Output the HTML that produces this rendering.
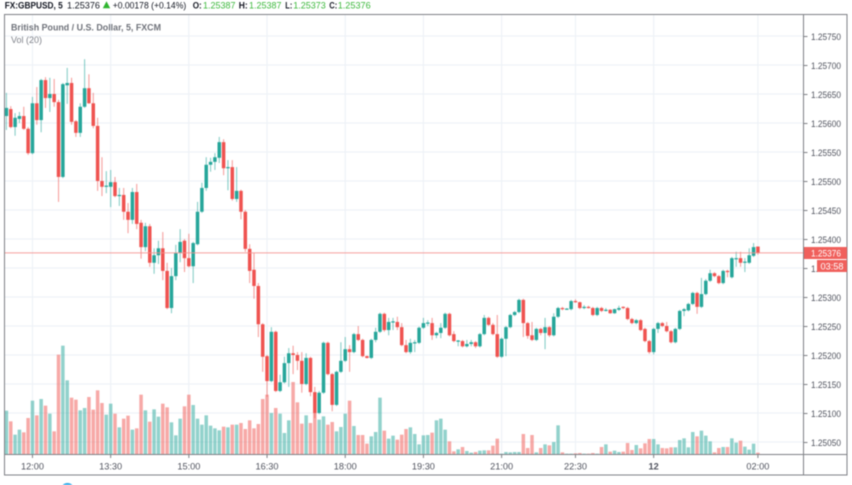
<!DOCTYPE html>
<html lang="en">
<head>
<meta charset="utf-8">
<title>GBPUSD 5 minute chart</title>
<style>
html,body{margin:0;padding:0;background:#fff;width:852px;height:485px;overflow:hidden}
svg{display:block;font-family:"Liberation Sans",Arial,sans-serif;filter:blur(0.4px)}
</style>
</head>
<body>
<svg id="chart" xmlns="http://www.w3.org/2000/svg" width="852" height="485" viewBox="0 0 852 485">
  <defs><clipPath id="plot-clip"><rect x="5" y="15" width="798.5" height="439"/></clipPath></defs>
  <rect x="0" y="0" width="852" height="485" fill="#ffffff"/>
  <g id="grid"></g>
  <g id="volumes" clip-path="url(#plot-clip)"></g>
  <g id="candles" clip-path="url(#plot-clip)"></g>
  <line id="last-line" x1="5" x2="803.5" stroke="#f48f8c" stroke-opacity="0.85" stroke-width="1"/>

  <g fill="none" stroke="#7f8186" stroke-width="1">
    <rect x="4.5" y="14.5" width="842.5" height="460.5"/>
    <line x1="803.5" y1="14.5" x2="803.5" y2="475"/>
    <line x1="4.5" y1="454.5" x2="847" y2="454.5"/>
  </g>
  <g id="price-axis"></g>
  <g id="time-axis"></g>

  <rect id="last-tag" x="804" y="247" width="43" height="12" fill="#f0605c"/>
  <text id="last-tag-text" x="811" y="256.4" font-size="9.3" fill="#ffffff" textLength="30" lengthAdjust="spacingAndGlyphs">1.25376</text>
  <rect x="817" y="260" width="30" height="12" fill="#f0605c"/>
  <text x="820.5" y="269.4" font-size="9.3" fill="#ffffff" textLength="23" lengthAdjust="spacingAndGlyphs">03:58</text>

  <g font-size="9.3" fill="#131722">
    <text x="4.7" y="8.5" font-weight="bold" textLength="58" lengthAdjust="spacingAndGlyphs">FX:GBPUSD, 5</text>
    <text x="67" y="8.5" textLength="33" lengthAdjust="spacingAndGlyphs">1.25376</text>
    <polygon points="102.8,8.3 110.2,8.3 106.5,1.3" fill="#2fb52f"/>
    <text x="112.7" y="8.5" textLength="73.5" lengthAdjust="spacingAndGlyphs">+0.00178 (+0.14%)</text>
    <text x="192.7" y="8.5" font-weight="bold" textLength="9" lengthAdjust="spacingAndGlyphs">O:</text>
    <text x="203" y="8.5" fill="#3cb83c" textLength="32.5" lengthAdjust="spacingAndGlyphs">1.25387</text>
    <text x="238.7" y="8.5" font-weight="bold" textLength="9" lengthAdjust="spacingAndGlyphs">H:</text>
    <text x="249" y="8.5" fill="#3cb83c" textLength="32.5" lengthAdjust="spacingAndGlyphs">1.25387</text>
    <text x="285.3" y="8.5" font-weight="bold" textLength="7" lengthAdjust="spacingAndGlyphs">L:</text>
    <text x="293.3" y="8.5" fill="#3cb83c" textLength="32.5" lengthAdjust="spacingAndGlyphs">1.25373</text>
    <text x="329.3" y="8.5" font-weight="bold" textLength="8" lengthAdjust="spacingAndGlyphs">C:</text>
    <text x="337.7" y="8.5" fill="#3cb83c" textLength="33" lengthAdjust="spacingAndGlyphs">1.25376</text>
  </g>
  <text x="11" y="30.5" font-size="9.6" font-weight="bold" fill="#6f727a" textLength="150" lengthAdjust="spacingAndGlyphs">British Pound / U.S. Dollar, 5, FXCM</text>
  <text x="11" y="43.2" font-size="9.6" fill="#7f828a" textLength="31" lengthAdjust="spacingAndGlyphs">Vol (20)</text>
  <circle cx="67.5" cy="490" r="7" fill="#2aa8e8"/>
</svg>
<script>
const opens=[1.25612,1.25624,1.25593,1.25607,1.25612,1.25590,1.25548,1.25634,1.25605,1.25674,
1.25643,1.25650,1.25636,1.25507,1.25665,1.25669,1.25603,1.25583,1.25628,1.25660,
1.25634,1.25595,1.25500,1.25490,1.25490,1.25498,1.25474,1.25476,1.25447,1.25433,
1.25481,1.25428,1.25386,1.25422,1.25359,1.25372,1.25384,1.25345,1.25281,1.25336,
1.25376,1.25397,1.25367,1.25353,1.25391,1.25447,1.25488,1.25528,1.25533,1.25540,
1.25567,1.25522,1.25524,1.25469,1.25483,1.25447,1.25383,1.25347,1.25319,1.25253,
1.25198,1.25155,1.25240,1.25138,1.25153,1.25186,1.25203,1.25200,1.25190,1.25150,
1.25195,1.25136,1.25100,1.25135,1.25221,1.25167,1.25114,1.25171,1.25190,1.25210,
1.25205,1.25236,1.25226,1.25198,1.25195,1.25226,1.25240,1.25271,1.25243,1.25256,
1.25257,1.25248,1.25217,1.25205,1.25220,1.25221,1.25247,1.25254,1.25255,1.25234,
1.25238,1.25247,1.25271,1.25236,1.25223,1.25224,1.25215,1.25219,1.25222,1.25215,
1.25236,1.25264,1.25252,1.25236,1.25197,1.25228,1.25248,1.25269,1.25274,1.25295,
1.25255,1.25234,1.25226,1.25245,1.25238,1.25248,1.25234,1.25266,1.25281,1.25279,
1.25279,1.25293,1.25291,1.25281,1.25283,1.25281,1.25269,1.25281,1.25276,1.25278,
1.25272,1.25278,1.25283,1.25281,1.25262,1.25255,1.25260,1.25245,1.25224,1.25205,
1.25245,1.25255,1.25250,1.25241,1.25222,1.25245,1.25276,1.25277,1.25288,1.25307,
1.25283,1.25305,1.25328,1.25341,1.25336,1.25324,1.25345,1.25334,1.25365,1.25367,
1.25359,1.25359,1.25371,1.25387];
const highs=[1.25652,1.25629,1.25617,1.25619,1.25628,1.25593,1.25645,1.25662,1.25676,1.25679,
1.25678,1.25676,1.25640,1.25669,1.25695,1.25678,1.25605,1.25634,1.25710,1.25684,
1.25652,1.25609,1.25541,1.25517,1.25519,1.25507,1.25488,1.25488,1.25462,1.25488,
1.25495,1.25433,1.25428,1.25426,1.25384,1.25397,1.25412,1.25359,1.25350,1.25390,
1.25417,1.25400,1.25409,1.25395,1.25464,1.25497,1.25541,1.25540,1.25548,1.25576,
1.25572,1.25536,1.25536,1.25524,1.25485,1.25450,1.25391,1.25376,1.25324,1.25255,
1.25200,1.25248,1.25242,1.25166,1.25197,1.25212,1.25216,1.25205,1.25205,1.25203,
1.25197,1.25145,1.25138,1.25223,1.25223,1.25169,1.25173,1.25222,1.25231,1.25217,
1.25238,1.25250,1.25228,1.25199,1.25228,1.25247,1.25273,1.25273,1.25264,1.25264,
1.25266,1.25255,1.25226,1.25228,1.25226,1.25249,1.25264,1.25260,1.25264,1.25240,
1.25255,1.25273,1.25273,1.25241,1.25226,1.25226,1.25226,1.25226,1.25224,1.25238,
1.25269,1.25266,1.25255,1.25269,1.25230,1.25250,1.25271,1.25276,1.25297,1.25297,
1.25257,1.25257,1.25247,1.25247,1.25264,1.25250,1.25272,1.25283,1.25283,1.25281,
1.25295,1.25296,1.25292,1.25286,1.25285,1.25283,1.25283,1.25283,1.25281,1.25279,
1.25280,1.25285,1.25284,1.25283,1.25264,1.25262,1.25262,1.25247,1.25226,1.25247,
1.25257,1.25257,1.25257,1.25243,1.25247,1.25278,1.25281,1.25290,1.25309,1.25309,
1.25333,1.25331,1.25347,1.25343,1.25338,1.25347,1.25347,1.25369,1.25378,1.25378,
1.25367,1.25384,1.25393,1.25387];
const lows=[1.25588,1.25591,1.25578,1.25600,1.25588,1.25545,1.25546,1.25597,1.25584,1.25626,
1.25619,1.25628,1.25464,1.25505,1.25633,1.25597,1.25576,1.25576,1.25626,1.25633,
1.25591,1.25483,1.25474,1.25479,1.25455,1.25472,1.25457,1.25433,1.25410,1.25426,
1.25417,1.25366,1.25379,1.25352,1.25340,1.25357,1.25329,1.25279,1.25272,1.25329,
1.25360,1.25343,1.25351,1.25324,1.25389,1.25445,1.25483,1.25516,1.25519,1.25531,
1.25510,1.25484,1.25466,1.25464,1.25434,1.25378,1.25324,1.25297,1.25231,1.25171,
1.25128,1.25153,1.25136,1.25136,1.25151,1.25145,1.25167,1.25174,1.25135,1.25148,
1.25129,1.25091,1.25098,1.25133,1.25165,1.25103,1.25112,1.25169,1.25188,1.25171,
1.25203,1.25224,1.25196,1.25194,1.25193,1.25222,1.25238,1.25240,1.25234,1.25243,
1.25243,1.25215,1.25203,1.25202,1.25205,1.25219,1.25245,1.25250,1.25226,1.25229,
1.25229,1.25245,1.25232,1.25222,1.25215,1.25213,1.25213,1.25215,1.25212,1.25213,
1.25234,1.25250,1.25234,1.25195,1.25195,1.25198,1.25246,1.25267,1.25272,1.25231,
1.25228,1.25224,1.25224,1.25234,1.25210,1.25231,1.25232,1.25264,1.25277,1.25278,
1.25277,1.25290,1.25279,1.25279,1.25280,1.25267,1.25267,1.25274,1.25275,1.25271,
1.25271,1.25276,1.25279,1.25260,1.25253,1.25253,1.25241,1.25222,1.25202,1.25201,
1.25238,1.25248,1.25239,1.25220,1.25220,1.25243,1.25267,1.25275,1.25286,1.25271,
1.25281,1.25303,1.25326,1.25334,1.25322,1.25322,1.25334,1.25332,1.25352,1.25352,
1.25343,1.25357,1.25369,1.25373];
const closes=[1.25626,1.25593,1.25609,1.25612,1.25590,1.25548,1.25634,1.25605,1.25674,1.25643,
1.25650,1.25636,1.25507,1.25667,1.25669,1.25602,1.25583,1.25628,1.25660,1.25634,
1.25595,1.25500,1.25490,1.25492,1.25498,1.25474,1.25476,1.25447,1.25433,1.25481,
1.25426,1.25386,1.25422,1.25359,1.25372,1.25384,1.25345,1.25281,1.25336,1.25376,
1.25395,1.25367,1.25353,1.25393,1.25447,1.25488,1.25528,1.25533,1.25541,1.25567,
1.25522,1.25524,1.25469,1.25483,1.25447,1.25383,1.25345,1.25319,1.25253,1.25197,
1.25155,1.25240,1.25138,1.25153,1.25186,1.25203,1.25200,1.25190,1.25150,1.25195,
1.25136,1.25100,1.25135,1.25221,1.25167,1.25114,1.25171,1.25190,1.25210,1.25205,
1.25236,1.25226,1.25198,1.25195,1.25226,1.25240,1.25271,1.25243,1.25257,1.25258,
1.25248,1.25217,1.25205,1.25221,1.25222,1.25247,1.25255,1.25256,1.25234,1.25238,
1.25247,1.25271,1.25234,1.25224,1.25225,1.25215,1.25219,1.25222,1.25215,1.25236,
1.25264,1.25252,1.25236,1.25197,1.25228,1.25248,1.25269,1.25274,1.25295,1.25255,
1.25233,1.25226,1.25245,1.25238,1.25248,1.25234,1.25266,1.25281,1.25279,1.25280,
1.25293,1.25291,1.25281,1.25283,1.25281,1.25269,1.25281,1.25276,1.25278,1.25272,
1.25279,1.25281,1.25281,1.25262,1.25255,1.25260,1.25243,1.25224,1.25205,1.25245,
1.25255,1.25250,1.25241,1.25222,1.25245,1.25276,1.25279,1.25288,1.25307,1.25283,
1.25305,1.25328,1.25341,1.25336,1.25324,1.25345,1.25343,1.25367,1.25367,1.25359,
1.25361,1.25372,1.25386,1.25376];
const volumes=[130,98,58,73,65,108,160,116,165,145,
121,68,298,325,221,169,163,131,138,171,
133,191,153,118,151,121,80,106,115,73,
77,178,131,97,134,112,151,140,95,56,
106,143,178,147,106,88,116,85,77,71,
82,80,88,88,93,75,101,77,90,165,
178,123,138,121,63,101,216,155,91,116,
93,123,103,113,88,96,68,81,121,160,
84,57,57,31,53,66,169,70,46,55,
43,58,75,80,60,29,56,57,64,101,
106,73,38,8,14,21,9,4,6,10,
11,11,25,46,1,6,5,6,6,60,
18,57,5,18,29,26,36,86,5,1,
1,2,3,1,1,3,1,21,29,7,
10,6,7,33,12,27,17,32,45,45,
29,18,17,20,20,42,47,20,66,53,
70,55,38,5,18,21,21,47,34,40,
22,13,31,4];
const priceTicks=[1.25750,1.25700,1.25650,1.25600,1.25550,1.25500,1.25450,1.25400,1.25350,1.25300,1.25250,1.25200,1.25150,1.25100,1.25050];
const timeTickBars=[6,24,42,60,78,96,114,131,149,173];
const timeTickLabels=["12:00","13:30","15:00","16:30","18:00","19:30","21:00","22:30","12","02:00"];
const lastPrice=1.25376;

const NS="http://www.w3.org/2000/svg";
function xBar(i){return 6.4+4.344*i;}
function yPrice(p){return 239+(1.254-p)*58000;}
function yVolume(v){return 454-v/3;}
function make(tag,attrs,parent){
  const el=document.createElementNS(NS,tag);
  for(const k in attrs){el.setAttribute(k,attrs[k]);}
  parent.appendChild(el);
  return el;
}
const grid=document.getElementById("grid");
const priceAxis=document.getElementById("price-axis");
const timeAxis=document.getElementById("time-axis");
const volumesG=document.getElementById("volumes");
const candlesG=document.getElementById("candles");

priceTicks.forEach(function(p){
  const y=yPrice(p);
  const g=make("line",{x1:5,x2:803.5,y1:y,y2:y,stroke:"#eef2f7","stroke-width":1.2},grid);
  
  
  const t=make("line",{x1:803.5,x2:807.5,y1:y+0.5,y2:y+0.5,stroke:"#7f8186","stroke-width":1},priceAxis);
  
  
  const l=make("text",{x:811,y:y+3.9,"font-size":9.3,fill:"#50535e",textLength:30,lengthAdjust:"spacingAndGlyphs"},priceAxis);
  
  
  l.textContent=p.toFixed(5);
});
timeTickBars.forEach(function(b,i){
  const x=xBar(b);
  const g=make("line",{x1:x,x2:x,y1:15,y2:454,stroke:"#eef2f7","stroke-width":1.2},grid);
  
  
  const t=make("line",{x1:x,x2:x,y1:454.5,y2:458,stroke:"#7f8186","stroke-width":1},timeAxis);
  
  
  const bold=timeTickLabels[i].indexOf(":")<0;
  const l=make("text",{x:x,y:469.4,"font-size":9.2,fill:"#50535e","text-anchor":"middle","font-weight":bold?"bold":"normal"},timeAxis);
  
  
  l.textContent=timeTickLabels[i];
});
volumes.forEach(function(v,i){
  const up=closes[i]>=opens[i];
  const y=yVolume(v);
  const r=make("rect",{x:xBar(i)-1.75,y:y,width:3.5,height:Math.max(454-y,0.3),fill:up?"#26a69a":"#ef5350","fill-opacity":0.5},volumesG);
  
  
});
opens.forEach(function(o,i){
  const c=closes[i];
  const up=c>=o;
  const color=up?"#26a69a":"#ef5350";
  const x=xBar(i);
  const w=make("line",{x1:x,x2:x,y1:yPrice(highs[i]),y2:yPrice(lows[i]),stroke:color,"stroke-width":1.1,"stroke-opacity":0.55},candlesG);
  
  
  const top=yPrice(Math.max(o,c));
  const bot=yPrice(Math.min(o,c));
  const b=make("rect",{x:x-1.75,y:top,width:3.5,height:Math.max(bot-top,1.2),fill:color},candlesG);
  
  
});
const lastLine=document.getElementById("last-line");
lastLine.setAttribute("y1",yPrice(lastPrice));
lastLine.setAttribute("y2",yPrice(lastPrice));
</script>
</body>
</html>
